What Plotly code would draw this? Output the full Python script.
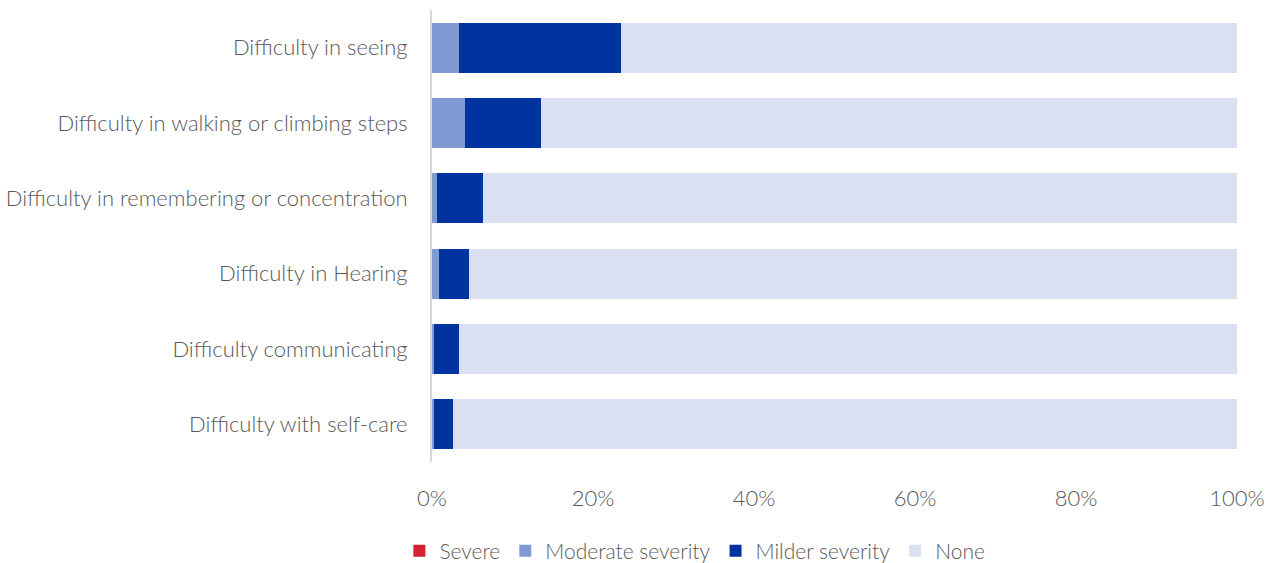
import plotly.graph_objects as go

categories = [
    "Difficulty in seeing",
    "Difficulty in walking or climbing steps",
    "Difficulty in remembering or concentration",
    "Difficulty in Hearing",
    "Difficulty communicating",
    "Difficulty with self-care",
]
severe = [0.0, 0.0, 0.0, 0.0, 0.0, 0.0]
moderate = [3.3, 4.1, 0.6, 0.85, 0.3, 0.3]
milder = [20.2, 9.4, 5.7, 3.75, 3.05, 2.3]
none = [round(100 - s - m - d, 2) for s, m, d in zip(severe, moderate, milder)]

series = [
    ("Severe", severe, "#d4202f"),
    ("Moderate severity", moderate, "#7f9ad2"),
    ("Milder severity", milder, "#0033a0"),
    ("None", none, "#dae0f2"),
]

font_family = "Lato, 'Open Sans', sans-serif"
text_color = "#595959"
fsize = 22

fig = go.Figure()
for name, vals, color in series:
    fig.add_trace(go.Bar(
        name=name,
        y=categories,
        x=vals,
        orientation="h",
        marker=dict(color=color, line=dict(width=0)),
        width=0.66,
    ))

fig.update_layout(
    barmode="stack",
    width=1275,
    height=563,
    margin=dict(l=432, r=38, t=10, b=101, autoexpand=False),
    paper_bgcolor="white",
    plot_bgcolor="white",
    font=dict(family=font_family, size=fsize, color=text_color, weight=300),
    showlegend=True,
    legend=dict(
        orientation="h",
        x=0.545,
        xref="container",
        xanchor="center",
        y=0.021,
        yref="container",
        yanchor="middle",
        font=dict(size=21, color=text_color, weight=300),
        itemwidth=30,
        traceorder="normal",
    ),
    xaxis=dict(
        range=[0, 100],
        tickvals=[0, 20, 40, 60, 80, 100],
        ticktext=["0%", "20%", "40%", "60%", "80%", "100%"],
        showgrid=False,
        zeroline=False,
        showline=False,
        ticks="",
        ticklabelstandoff=21,
        tickfont=dict(size=fsize, color=text_color, weight=300),
    ),
    yaxis=dict(
        autorange="reversed",
        showgrid=False,
        showline=True,
        linecolor="#d9d9d9",
        linewidth=2,
        ticks="",
        ticklabelstandoff=18,
        tickfont=dict(size=fsize, color=text_color, weight=300),
    ),
)

fig.write_html("out.html")
